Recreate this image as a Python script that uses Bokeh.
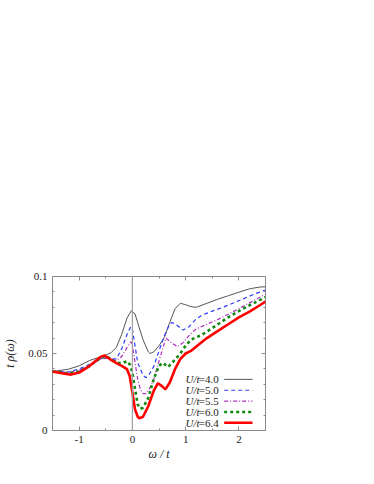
from bokeh.plotting import figure
from bokeh.models import Range1d, FixedTicker, LinearAxis, Span
from bokeh.core.properties import value
from bokeh.embed import file_html
from bokeh.resources import INLINE

# ---- data ----
om40 = [-1.5, -1.2, -1.0, -0.8, -0.6, -0.5, -0.4, -0.3, -0.2, -0.1, -0.02, 0.05, 0.1, 0.2, 0.3, 0.33,
        0.4, 0.5, 0.6, 0.7, 0.8, 0.9, 1.0, 1.1, 1.2, 1.4, 1.6, 1.8, 2.0, 2.2, 2.4, 2.5]
rho40 = [0.0383, 0.0398, 0.042, 0.0455, 0.0478, 0.049, 0.0505, 0.054, 0.0625, 0.0730, 0.0778, 0.0757,
         0.070, 0.059, 0.051, 0.050, 0.051, 0.055, 0.0604, 0.070, 0.079, 0.0826, 0.0817, 0.0804, 0.0800,
         0.0826, 0.0852, 0.0875, 0.0898, 0.0920, 0.0932, 0.0933]

om50 = [-1.5, -1.2, -1.0, -0.8, -0.6, -0.5, -0.4, -0.3, -0.2, -0.1, -0.03, 0.0, 0.05, 0.1, 0.2, 0.25,
        0.3, 0.4, 0.5, 0.6, 0.7, 0.75, 0.85, 0.95, 1.05, 1.2, 1.3, 1.5, 1.7, 2.0, 2.3, 2.5]
rho50 = [0.0383, 0.0380, 0.0400, 0.0430, 0.0467, 0.0474, 0.0465, 0.0465, 0.0530, 0.0625, 0.0674, 0.0660,
         0.0550, 0.0440, 0.0359, 0.0343, 0.0354, 0.0415, 0.0517, 0.0615, 0.0690, 0.0702, 0.0680, 0.0652,
         0.0670, 0.0725, 0.0748, 0.0775, 0.0800, 0.0843, 0.0887, 0.0912]

om55 = [-1.5, -1.2, -1.0, -0.8, -0.6, -0.5, -0.4, -0.3, -0.2, -0.1, -0.03, 0.0, 0.05, 0.1, 0.15, 0.2,
        0.25, 0.3, 0.4, 0.5, 0.63, 0.75, 0.85, 0.95, 1.1, 1.2, 1.4, 1.6, 1.8, 2.1, 2.5]
rho55 = [0.0383, 0.0376, 0.0390, 0.0424, 0.0463, 0.0470, 0.0460, 0.0455, 0.0480, 0.0540, 0.0575, 0.0560,
         0.0440, 0.0333, 0.0267, 0.0240, 0.0240, 0.0257, 0.0330, 0.0450, 0.0600, 0.0565, 0.0545, 0.0570,
         0.0630, 0.0660, 0.0690, 0.0720, 0.0755, 0.0810, 0.0885]

om60 = [-1.5, -1.2, -1.0, -0.8, -0.6, -0.5, -0.4, -0.3, -0.2, -0.1, -0.05, 0.0, 0.05, 0.1, 0.15, 0.2,
        0.3, 0.4, 0.5, 0.57, 0.67, 0.8, 0.9, 1.0, 1.1, 1.3, 1.5, 1.8, 2.1, 2.5]
rho60 = [0.0383, 0.0370, 0.0383, 0.0420, 0.0470, 0.0485, 0.0463, 0.0440, 0.0437, 0.0450, 0.0430, 0.0376,
         0.0267, 0.0170, 0.0141, 0.0148, 0.0213, 0.0333, 0.0420, 0.0440, 0.0412, 0.0460, 0.0500, 0.0550,
         0.0590, 0.0620, 0.0665, 0.0735, 0.0795, 0.0866]

om64 = [-1.5, -1.3, -1.15, -1.0, -0.8, -0.6, -0.52, -0.4, -0.3, -0.2, -0.1, -0.05, 0.0, 0.05, 0.1, 0.13,
        0.2, 0.3, 0.4, 0.48, 0.55, 0.62, 0.7, 0.8, 0.9, 1.0, 1.1, 1.2, 1.4, 1.6, 1.8, 2.0, 2.2, 2.4, 2.5]
rho64 = [0.0383, 0.0370, 0.0363, 0.0376, 0.0420, 0.0478, 0.0487, 0.0459, 0.0437, 0.0420, 0.0398, 0.0354,
         0.0246, 0.0137, 0.0089, 0.0080, 0.0089, 0.0159, 0.0257, 0.0307, 0.0290, 0.0267, 0.0310, 0.0398,
         0.0463, 0.0500, 0.0517, 0.0546, 0.0600, 0.0645, 0.0690, 0.0735, 0.0772, 0.0815, 0.0837]

labels_u = ["4.0", "5.0", "5.5", "6.0", "6.4"]
x_ticks = [-1, 0, 1, 2]
x_minor = [-1.5, -0.5, 0.5, 1.5, 2.5]
y_ticks = [0, 0.05, 0.1]
y_tick_labels = ["0", "0.05", "0.1"]
y_minor = [0.01, 0.02, 0.03, 0.04, 0.06, 0.07, 0.08, 0.09]

# ---- styles ----
series = [
    (om40, rho40, dict(line_color="#555555", line_width=1.0)),
    (om50, rho50, dict(line_color="#2f3cff", line_width=1.2, line_dash="4 3")),
    (om55, rho55, dict(line_color="#b030c0", line_width=1.2, line_dash="4 2 1 2")),
    (om60, rho60, dict(line_color="#108a10", line_width=2.6, line_dash="3 3")),
    (om64, rho64, dict(line_color="#ff0000", line_width=2.6)),
]

FONT = "Liberation Serif"
FS = "11px"
XMIN, XMAX, YMIN, YMAX = -1.5, 2.5, 0.0, 0.1

p = figure(width=358, height=468, output_backend="svg", toolbar_location=None,
           x_range=Range1d(XMIN, XMAX), y_range=Range1d(YMIN, YMAX),
           min_border_left=44, min_border_right=93, min_border_top=276, min_border_bottom=38)
p.background_fill_color = None
p.border_fill_color = "white"
p.outline_line_color = "#8a8a8a"
p.outline_line_width = 1
p.xgrid.visible = False
p.ygrid.visible = False

def style_axis(ax, ticks, minor, overrides, show_labels):
    ax.ticker = FixedTicker(ticks=ticks, minor_ticks=minor)
    ax.axis_line_color = None
    ax.major_tick_in = 4
    ax.major_tick_out = 0
    ax.minor_tick_in = 2
    ax.minor_tick_out = 0
    ax.major_tick_line_color = "#8a8a8a"
    ax.minor_tick_line_color = "#8a8a8a"
    ax.major_label_text_font = FONT
    ax.major_label_text_font_size = FS
    ax.major_label_text_color = "#222222"
    ax.major_label_overrides = overrides if show_labels else {t: "" for t in ticks}

xb = p.below[0]
yl = p.left[0]
style_axis(xb, x_ticks, x_minor, {-1: "-1", 0: "0", 1: "1", 2: "2"}, True)
style_axis(yl, y_ticks, y_minor, dict(zip(y_ticks, y_tick_labels)), True)
xb.major_label_standoff = 5
yl.major_label_standoff = 5

top_ax = LinearAxis()
style_axis(top_ax, x_ticks, x_minor, None, False)
right_ax = LinearAxis()
style_axis(right_ax, y_ticks, y_minor, None, False)
p.add_layout(top_ax, "above")
p.add_layout(right_ax, "right")

xb.axis_label = "ω / t"
yl.axis_label = "t ρ(ω)"
for ax in (xb, yl):
    ax.axis_label_text_font = FONT
    ax.axis_label_text_font_size = "12px"
    ax.axis_label_text_font_style = "italic"
    ax.axis_label_text_color = "#222222"
xb.axis_label_standoff = 1
yl.axis_label_standoff = 8

p.add_layout(Span(location=0, dimension="height", line_color="#a0a0a0", line_width=1.2))

for xs, ys, st in series:
    p.line(xs, ys, **st)

# ---- legend (gnuplot style: text left, sample right), layout as frame fractions ----
fx = lambda f: XMIN + f * (XMAX - XMIN)
fy = lambda f: YMIN + f * (YMAX - YMIN)
text_right = 0.780
samp_x0, samp_x1 = 0.806, 0.939
row_top, row_step = 0.332, 0.0705
for i, (lab, (_, _, st)) in enumerate(zip(labels_u, series)):
    yy = fy(row_top - i * row_step)
    p.text(x=[fx(text_right)], y=[yy], text=["=" + lab], text_align="right",
           text_baseline="middle", text_font=value(FONT), text_font_size=FS, text_color="#222222")
    p.text(x=[fx(text_right)], y=[yy], text=["U/t"], text_align="right", x_offset=-19,
           text_baseline="middle", text_font=value(FONT), text_font_size=FS,
           text_font_style="italic", text_color="#222222")
    p.line([fx(samp_x0), fx(samp_x1)], [yy, yy], **st)

open("out.html", "w").write(file_html(p, INLINE))
